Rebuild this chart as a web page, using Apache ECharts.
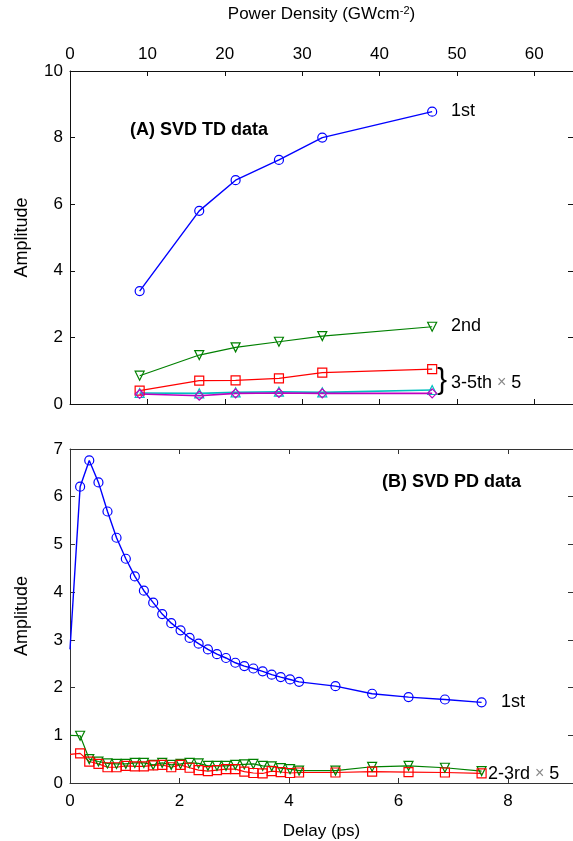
<!DOCTYPE html>
<html>
<head>
<meta charset="utf-8">
<script src="https://cdn.jsdelivr.net/npm/echarts@6/dist/echarts.min.js"></script>
<style>
html,body{margin:0;padding:0;background:#fff;overflow:hidden;}
#chart{width:573px;height:841px;}
</style>
</head>
<body>
<div id="chart"></div>
<script>
// ---- Panel A: SVD of time-delay data vs power density ----
const powerDensity = [9, 16.7, 21.4, 27, 32.6, 46.8];
const tdFirst  = [3.39, 5.80, 6.72, 7.33, 8.00, 8.78];
const tdSecond = [0.85, 1.47, 1.70, 1.87, 2.04, 2.32];
const tdThird  = [0.40, 0.70, 0.71, 0.77, 0.94, 1.05];
const tdFourth = [0.33, 0.32, 0.35, 0.37, 0.35, 0.42];
const tdFifth  = [0.30, 0.25, 0.32, 0.33, 0.32, 0.32];
const pdTicks = [0, 10, 20, 30, 40, 50, 60];

// ---- Panel B: SVD of power-density data vs delay ----
const delay = [0, 0.185, 0.352, 0.52, 0.685, 0.85, 1.02, 1.185, 1.35, 1.52, 1.685, 1.85, 2.02, 2.185,
  2.35, 2.52, 2.685, 2.85, 3.02, 3.185, 3.35, 3.52, 3.685, 3.85, 4.02, 4.185, 4.85, 5.52, 6.185, 6.85, 7.52];
const pdFirst = [2.8, 6.21, 6.76, 6.30, 5.69, 5.14, 4.70, 4.33, 4.03, 3.78, 3.54, 3.35, 3.20, 3.04,
  2.92, 2.80, 2.70, 2.62, 2.52, 2.45, 2.40, 2.34, 2.27, 2.22, 2.17, 2.12, 2.03, 1.87, 1.80, 1.75, 1.69];
const pdSecond = [1.0, 0.99, 0.50, 0.45, 0.41, 0.40, 0.40, 0.42, 0.42, 0.38, 0.42, 0.38, 0.40, 0.42,
  0.41, 0.36, 0.36, 0.36, 0.38, 0.39, 0.40, 0.36, 0.35, 0.31, 0.29, 0.26, 0.26, 0.34, 0.36, 0.32, 0.25];
const pdThird = [0.60, 0.62, 0.45, 0.40, 0.33, 0.33, 0.36, 0.35, 0.35, 0.37, 0.38, 0.33, 0.38, 0.32,
  0.27, 0.25, 0.27, 0.29, 0.29, 0.24, 0.21, 0.20, 0.25, 0.23, 0.21, 0.22, 0.22, 0.24, 0.23, 0.22, 0.20];
const delayTicks = [0, 2, 4, 6, 8];

const FONT = '"Liberation Sans", Arial, sans-serif';
const TXT = '#000';

function pairs(xs, ys) { return xs.map((x, i) => [x, ys[i]]); }

function lineSeries(xi, yi, xs, ys, color, symbol, opts) {
  opts = opts || {};
  const data = pairs(xs, ys).map((p, i) => {
    if (opts.noFirstSymbol && i === 0) return { value: p, symbol: 'none' };
    return p;
  });
  return {
    type: 'line', xAxisIndex: xi, yAxisIndex: yi, data: data,
    symbol: symbol, symbolSize: opts.size || 9, symbolRotate: opts.rotate || 0,
    showAllSymbol: true, clip: false, animation: false,
    lineStyle: { color: color, width: opts.width || 1.2 },
    itemStyle: { color: 'rgba(0,0,0,0)', borderColor: color, borderWidth: 1.2 },
    emphasis: { disabled: true }, z: opts.z || 3
  };
}

function axisBase(color) {
  return {
    axisLine: { show: true, onZero: false, lineStyle: { color: color, width: 1 } },
    axisTick: { show: true, inside: true, length: 5, lineStyle: { color: color } },
    splitLine: { show: false },
    axisLabel: { color: TXT, fontFamily: FONT, fontSize: 17 }
  };
}

const L = 70, W = 504;
const option = {
  backgroundColor: '#fff',
  animation: false,
  textStyle: { fontFamily: FONT },
  grid: [
    { left: L, top: 71, width: W, height: 333 },
    { left: L, top: 449, width: W, height: 335 }
  ],
  xAxis: [
    Object.assign(axisBase('#111'), {
      type: 'value', gridIndex: 0, position: 'top', min: 0, max: 65, interval: 10,
      name: '{n|Power Density (GWcm}{s|-2}{n|)}', nameLocation: 'middle', nameGap: 47,
      nameTextStyle: { rich: { n: { fontFamily: FONT, fontSize: 17, color: TXT },
                               s: { fontFamily: FONT, fontSize: 11, color: TXT, verticalAlign: 'top', padding: [0, 0, 8, 0] } } },
      axisLabel: { color: TXT, fontFamily: FONT, fontSize: 17, margin: 8, showMaxLabel: false,
        formatter: v => pdTicks.includes(v) ? String(v) : '' }
    }),
    Object.assign(axisBase('#111'), {
      type: 'value', gridIndex: 0, position: 'bottom', min: 0, max: 65, interval: 10,
      axisLabel: { show: false }
    }),
    Object.assign(axisBase('#333'), {
      type: 'value', gridIndex: 1, position: 'bottom', min: 0, max: 9.19, interval: 2,
      name: 'Delay (ps)', nameLocation: 'middle', nameGap: 40,
      nameTextStyle: { fontFamily: FONT, fontSize: 17, color: TXT },
      axisLabel: { color: TXT, fontFamily: FONT, fontSize: 17, margin: 10, showMaxLabel: false,
        formatter: v => delayTicks.includes(v) ? String(v) : '' }
    }),
    Object.assign(axisBase('#333'), {
      type: 'value', gridIndex: 1, position: 'top', min: 0, max: 9.19, interval: 2,
      axisLabel: { show: false }
    })
  ],
  yAxis: [
    Object.assign(axisBase('#111'), {
      type: 'value', gridIndex: 0, position: 'left', min: 0, max: 10, interval: 2,
      name: 'Amplitude', nameLocation: 'middle', nameGap: 39, nameRotate: 90,
      nameTextStyle: { fontFamily: FONT, fontSize: 18, color: TXT },
      axisLabel: { color: TXT, fontFamily: FONT, fontSize: 17, margin: 7 }
    }),
    Object.assign(axisBase('#111'), {
      type: 'value', gridIndex: 0, position: 'right', min: 0, max: 10, interval: 2,
      axisLabel: { show: false }
    }),
    Object.assign(axisBase('#333'), {
      type: 'value', gridIndex: 1, position: 'left', min: 0, max: 7, interval: 1,
      name: 'Amplitude', nameLocation: 'middle', nameGap: 39, nameRotate: 90,
      nameTextStyle: { fontFamily: FONT, fontSize: 18, color: TXT },
      axisLabel: { color: TXT, fontFamily: FONT, fontSize: 17, margin: 7 }
    }),
    Object.assign(axisBase('#333'), {
      type: 'value', gridIndex: 1, position: 'right', min: 0, max: 7, interval: 1,
      axisLabel: { show: false }
    })
  ],
  series: [
    lineSeries(0, 0, powerDensity, tdFirst, '#0000ff', 'circle', { width: 1.4 }),
    lineSeries(0, 0, powerDensity, tdSecond, '#008000', 'triangle', { rotate: 180 }),
    lineSeries(0, 0, powerDensity, tdThird, '#ff0000', 'rect'),
    lineSeries(0, 0, powerDensity, tdFourth, '#00bfbf', 'triangle', { width: 1.6 }),
    lineSeries(0, 0, powerDensity, tdFifth, '#bf00bf', 'diamond', { width: 1.6 }),
    lineSeries(2, 2, delay, pdFirst, '#0000ff', 'circle', { width: 1.4, noFirstSymbol: true }),
    lineSeries(2, 2, delay, pdSecond, '#008000', 'triangle', { rotate: 180, noFirstSymbol: true }),
    lineSeries(2, 2, delay, pdThird, '#ff0000', 'rect', { noFirstSymbol: true })
  ],
  graphic: [
    { type: 'text', left: 130, top: 121, style: { text: '(A) SVD TD data', font: 'bold 18px ' + FONT, fill: TXT } },
    { type: 'text', left: 451, top: 102, style: { text: '1st', font: '18px ' + FONT, fill: TXT } },
    { type: 'text', left: 451, top: 317, style: { text: '2nd', font: '18px ' + FONT, fill: TXT } },
    { type: 'text', left: 437, top: 366, style: { text: '}', font: '30px ' + FONT, fill: TXT } },
    { type: 'text', left: 451, top: 374, style: { text: '{a|3-5th }{x|\u00d7}{a| 5}', font: '18px ' + FONT, fill: TXT,
        rich: { a: { font: '18px ' + FONT, fill: TXT }, x: { font: '16px ' + FONT, fill: '#888' } } } },
    { type: 'text', left: 382, top: 473, style: { text: '(B) SVD PD data', font: 'bold 18px ' + FONT, fill: TXT } },
    { type: 'text', left: 501, top: 693, style: { text: '1st', font: '18px ' + FONT, fill: TXT } },
    { type: 'text', left: 488, top: 765, style: { text: '{a|2-3rd }{x|\u00d7}{a| 5}', font: '18px ' + FONT, fill: TXT,
        rich: { a: { font: '18px ' + FONT, fill: TXT }, x: { font: '16px ' + FONT, fill: '#888' } } } }
  ]
};

const chart = echarts.init(document.getElementById('chart'), null, { renderer: 'canvas' });
chart.setOption(option);
</script>
</body>
</html>
